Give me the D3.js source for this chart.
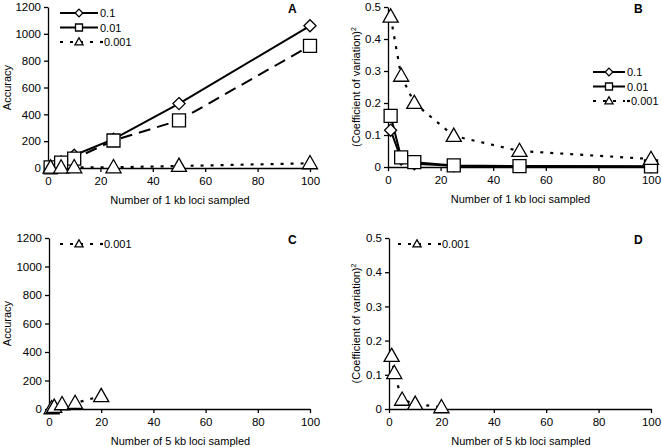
<!DOCTYPE html>
<html><head><meta charset="utf-8">
<script src="https://cdn.jsdelivr.net/npm/d3@7"></script>
<style>body{margin:0;background:#fff}svg{display:block;font-family:"Liberation Sans",Arial,sans-serif}</style>
</head><body><svg id="c" width="662" height="447"></svg>
<script>
// ---- data ----
const xLoci1kb = [1, 5, 10, 25, 50, 100];
const accA_01 = [10, 45, 95, 215, 480, 1060];
const accA_001 = [5, 40, 70, 205, 355, 910];
const accA_0001 = [2, 3, 5, 5, 15, 35];
const cvB_01 = [0.115, 0.025, 0.01, 0.004, 0.002, 0.001];
const cvB_001 = [0.16, 0.03, 0.015, 0.005, 0.003, 0.002];
const cvB_0001 = [0.47, 0.285, 0.2, 0.097, 0.05, 0.025];
const xLoci5kb = [1, 2, 5, 10, 20];
const accC_0001 = [5, 15, 33, 42, 90];
const cvD_0001 = [0.155, 0.105, 0.027, 0.015, 0.005];
const xTicks = [0, 20, 40, 60, 80, 100];
const accTicks = [0, 200, 400, 600, 800, 1000, 1200];
const cvTicks = [0, 0.1, 0.2, 0.3, 0.4, 0.5];
const seriesNames = ["0.1", "0.01", "0.001"];

const svg = d3.select("#c");

const styles = {
  "0.1": {shape: "diamond", dash: null, w: 2},
  "0.01": {shape: "square", dash: null, w: 2},
  "0.001": {shape: "triangle", dash: "3,7", w: 2.2}
};

function marker(g, shape, cx, cy, s) {
  let p;
  if (shape === "diamond") p = `M${cx},${cy - s * 0.55}L${cx + s * 0.55},${cy}L${cx},${cy + s * 0.55}L${cx - s * 0.55},${cy}Z`;
  else if (shape === "square") p = `M${cx - s / 2},${cy - s / 2}h${s}v${s}h${-s}Z`;
  else p = `M${cx},${cy - s * 0.6}L${cx + s * 0.58},${cy + s * 0.42}L${cx - s * 0.58},${cy + s * 0.42}Z`;
  g.append("path").attr("d", p).attr("fill", "#fff").attr("stroke", "#000").attr("stroke-width", 1.3);
}

function panel(cfg) {
  const x = d3.scaleLinear().domain([0, 100]).range([cfg.x0, cfg.x1]);
  const y = d3.scaleLinear().domain([0, cfg.ymax]).range([cfg.y0, cfg.y1]);
  const g = svg.append("g");
  const xa = g.append("g").attr("transform", `translate(0,${cfg.y0})`)
    .call(d3.axisBottom(x).tickValues(xTicks).tickSize(4).tickSizeOuter(0).tickFormat(d3.format("d")));
  const ya = g.append("g").attr("transform", `translate(${cfg.x0},0)`)
    .call(d3.axisLeft(y).tickValues(cfg.ticks).tickSize(4).tickSizeOuter(0).tickFormat(cfg.fmt));
  [xa, ya].forEach(a => {
    a.selectAll("path,line").attr("stroke", "#000").attr("stroke-width", 1.3);
    a.selectAll("text").attr("font-size", 11.5).attr("fill", "#000").attr("font-family", "Liberation Sans, Arial, sans-serif");
  });
  xa.selectAll("text").attr("dy", "0.9em");
  g.append("text").attr("x", (cfg.x0 + cfg.x1) / 2 + 1).attr("y", cfg.y0 + 36).attr("text-anchor", "middle")
    .attr("font-size", 11).text(cfg.xlabel);
  const yl = g.append("text").attr("transform", `translate(${cfg.ylx},${(cfg.y0 + cfg.y1) / 2}) rotate(-90)`)
    .attr("text-anchor", "middle").attr("font-size", 11);
  yl.append("tspan").text(cfg.ylabel);
  if (cfg.sup) yl.append("tspan").attr("dy", -4).attr("font-size", 7).text(cfg.sup);
  g.append("text").attr("x", cfg.lettx || cfg.x1 - 22).attr("y", cfg.y1 + 6).attr("font-weight", "bold")
    .attr("font-size", 12).text(cfg.letter);

  cfg.series.forEach(s => {
    const st = styles[s.name];
    const line = d3.line().x((d, i) => x(cfg.xs[i])).y(d => y(d));
    g.append("path").attr("d", line(s.values)).attr("fill", "none").attr("stroke", "#000")
      .attr("stroke-width", st.w).attr("stroke-dasharray", s.dash || st.dash);
  });
  cfg.series.forEach(s => {
    const st = styles[s.name];
    s.values.forEach((v, i) => marker(g, st.shape, x(cfg.xs[i]), y(v), st.shape === "diamond" ? 11 : 13));
  });
  // legend
  const ll = cfg.llen || 38;
  cfg.series.forEach((s, i) => {
    const st = styles[s.name];
    const ly = cfg.ly + i * 14.5;
    g.append("line").attr("x1", cfg.lx).attr("x2", cfg.lx + ll).attr("y1", ly).attr("y2", ly)
      .attr("stroke", "#000").attr("stroke-width", st.w).attr("stroke-dasharray", st.dash);
    marker(g, st.shape, cfg.lx + ll / 2, ly, 7);
    if (st.dash) g.append("line").attr("x1", cfg.lx + ll + 2).attr("x2", cfg.lx + ll + 5).attr("y1", ly).attr("y2", ly)
      .attr("stroke", "#000").attr("stroke-width", st.w);
    g.append("text").attr("x", cfg.lx + ll + (st.dash ? 6 : 2)).attr("y", ly + 4).attr("font-size", 11)
      .text(s.name);
  });
}

const fmtAcc = d3.format("d");
const fmtCv = d => d === 0 ? "0" : d3.format(".1f")(d);

panel({x0: 48, x1: 310, y0: 168, y1: 7, ymax: 1200, ticks: accTicks, fmt: fmtAcc,
  xlabel: "Number of 1 kb loci sampled", ylabel: "Accuracy", ylx: 11, letter: "A",
  xs: xLoci1kb, lx: 60, ly: 13,
  series: [{name: "0.1", values: accA_01}, {name: "0.01", values: accA_001, dash: "12,7"}, {name: "0.001", values: accA_0001}]});
panel({x0: 388, x1: 651, y0: 167, y1: 7, ymax: 0.5, ticks: cvTicks, fmt: fmtCv,
  xlabel: "Number of 1 kb loci sampled", ylabel: "(Coefficient of variation)", sup: "2", ylx: 360, letter: "B", lettx: 634,
  xs: xLoci1kb, lx: 593, ly: 72, llen: 32,
  series: [{name: "0.1", values: cvB_01}, {name: "0.01", values: cvB_001}, {name: "0.001", values: cvB_0001}]});
panel({x0: 49, x1: 310, y0: 409, y1: 238, ymax: 1200, ticks: accTicks, fmt: fmtAcc,
  xlabel: "Number of 5 kb loci sampled", ylabel: "Accuracy", ylx: 11, letter: "C",
  xs: xLoci5kb, lx: 60, ly: 244,
  series: [{name: "0.001", values: accC_0001}]});
panel({x0: 389, x1: 651, y0: 409, y1: 238, ymax: 0.5, ticks: cvTicks, fmt: fmtCv,
  xlabel: "Number of 5 kb loci sampled", ylabel: "(Coefficient of variation)", sup: "2", ylx: 360, letter: "D", lettx: 634,
  xs: xLoci5kb, lx: 398, ly: 244,
  series: [{name: "0.001", values: cvD_0001}]});
</script></body></html>
